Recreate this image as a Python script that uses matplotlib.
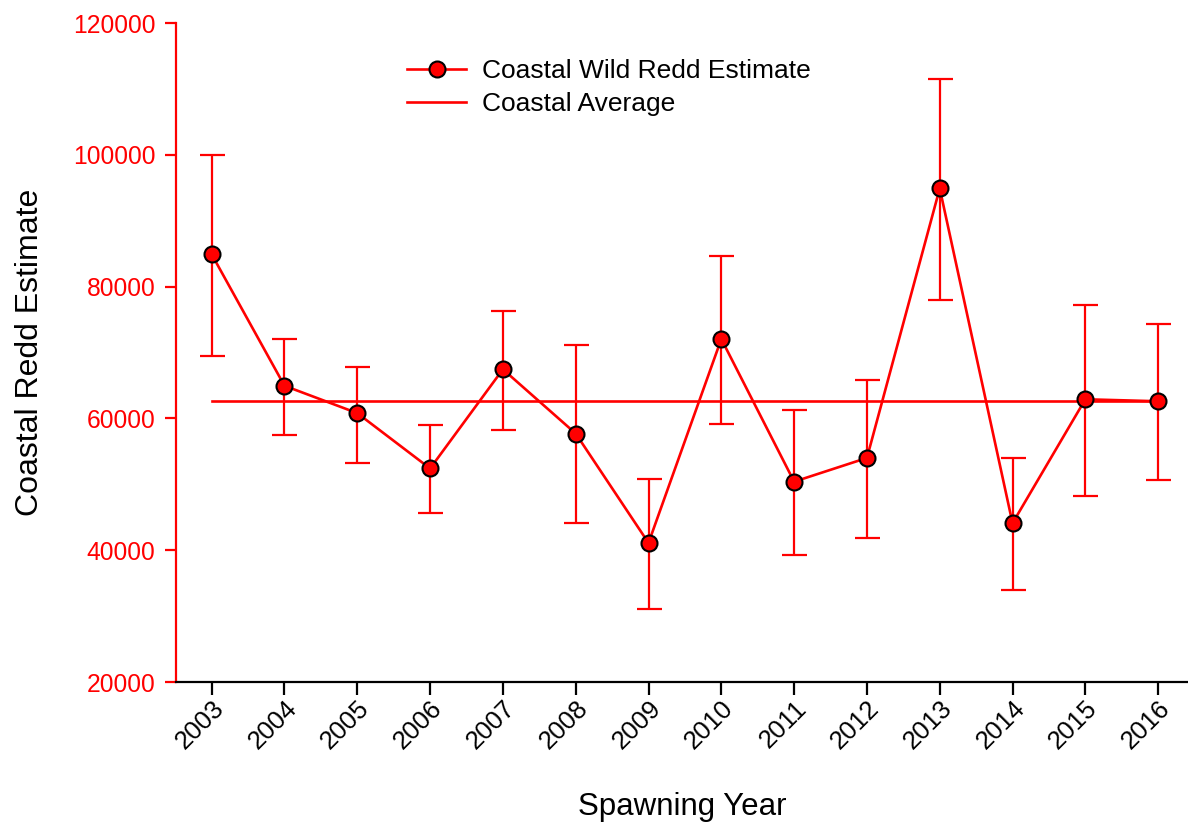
import matplotlib
matplotlib.use('Agg')
import matplotlib.pyplot as plt

# Values
years = [2003, 2004, 2005, 2006, 2007, 2008, 2009, 2010, 2011, 2012, 2013, 2014, 2015, 2016]
estimate = [84900, 64950, 60800, 52400, 67450, 57700, 41100, 72050, 50400, 54000, 94900, 44100, 62900, 62600]
upper = [100000, 72100, 67800, 58950, 76300, 71100, 50800, 84700, 61300, 65800, 111500, 54000, 77200, 74300]
lower = [69500, 57500, 53200, 45600, 58200, 44100, 31100, 59100, 39300, 41800, 77900, 33900, 48200, 50600]
average = 62700
yticks = [20000, 40000, 60000, 80000, 100000, 120000]

plt.rcParams['font.family'] = ['Liberation Sans', 'DejaVu Sans']

fig = plt.figure(figsize=(11.88, 8.3), dpi=100)
ax = fig.add_axes([176 / 1188, 1 - 682 / 830, 1 - 176 / 1188, (682 - 23) / 830])

red = '#ff0000'
yerr = [[e - l for e, l in zip(estimate, lower)], [u - e for u, e in zip(upper, estimate)]]

ax.errorbar(years, estimate, yerr=yerr, fmt='none', ecolor=red, elinewidth=1.6,
            capsize=9, capthick=1.6, zorder=2)
ax.plot([years[0], years[-1]], [average, average], color=red, lw=1.9, zorder=2,
        label='Coastal Average')
ax.plot(years, estimate, color=red, lw=1.9, marker='o', markersize=11.5,
        markerfacecolor=red, markeredgecolor='black', markeredgewidth=1.5, zorder=3,
        label='Coastal Wild Redd Estimate')

ax.set_xlim(2002.51, 2016.41)
ax.set_ylim(20000, 120000)
ax.set_xticks(years)
ax.set_xticklabels([str(y) for y in years], rotation=45, ha='right', rotation_mode='anchor')
ax.set_yticks(yticks)
ax.set_yticklabels([str(t) for t in yticks])

for side in ['top', 'right']:
    ax.spines[side].set_visible(False)
ax.spines['left'].set_color(red)
ax.spines['left'].set_linewidth(1.6)
ax.spines['bottom'].set_color('black')
ax.spines['bottom'].set_linewidth(1.6)
ax.tick_params(axis='y', colors=red, labelsize=17.7, length=8, width=1.6, direction='out', pad=7)
ax.tick_params(axis='x', colors='black', labelsize=18.5, length=9, width=1.6, direction='out', pad=1)

ax.set_xlabel('Spawning Year', fontsize=22.5, labelpad=28)
ax.set_ylabel('Coastal Redd Estimate', fontsize=23, labelpad=20)

handles, labels = ax.get_legend_handles_labels()
leg = ax.legend(handles[::-1], labels[::-1], loc='upper left',
                bbox_to_anchor=(407 / 1188, 1 - 59 / 830), bbox_transform=fig.transFigure,
                frameon=False, fontsize=19, handlelength=2.25, handletextpad=0.6,
                labelspacing=0.36, borderpad=0, borderaxespad=0)

fig.savefig('out.png', dpi=100)
